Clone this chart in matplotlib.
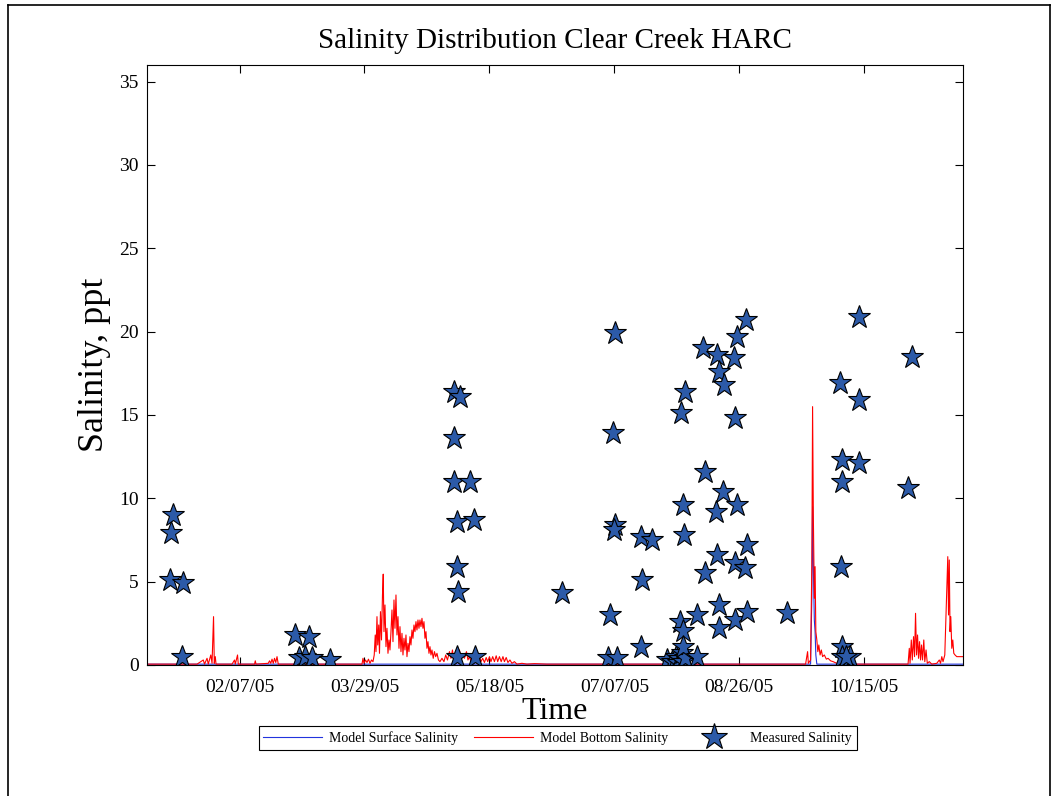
import matplotlib
matplotlib.use("Agg")
import matplotlib.pyplot as plt
import matplotlib.dates as mdates
from matplotlib.lines import Line2D
import numpy as np
import pandas as pd

plt.rcParams['font.family'] = ['Liberation Serif', 'DejaVu Serif']

START = pd.Timestamp('2005-01-01')

# model bottom salinity, (day of 2005, ppt)
bottom_day = [0, 20, 22.5, 23, 24, 24.5, 25.5, 26, 26.6, 26.9, 27.3, 27.6,
              34, 35, 35.3, 36.2, 36.5, 43, 43.3, 43.6,
              48.5, 49, 49.5, 50, 50.5, 51, 51.5, 52, 52.5, 86.0,
              86.4, 86.8, 87.4, 88.0, 88.6, 89.2, 89.8, 90.4, 90.9, 91.3, 91.6,
              92.0, 92.3, 92.7, 93.0, 93.4, 93.8, 94.2, 94.5, 94.8, 95.2, 95.6,
              96.0, 96.4, 96.8, 97.2, 97.6, 98.0, 98.4, 98.8, 99.2, 99.6, 100.0,
              100.4, 100.8, 101.2, 101.6, 102.0, 102.4, 102.8, 103.2, 103.6, 104.0,
              104.4, 104.8, 105.2, 105.6, 106.0, 106.4, 106.8, 107.2, 107.6, 108.0,
              108.4, 108.8, 109.2, 109.6, 110.0, 110.4, 110.8, 111.2, 111.6, 112.0,
              112.4, 112.8, 113.2, 113.6, 114.0, 114.5, 115.0, 115.5, 116.0, 116.6,
              117.2, 118.0, 118.8, 119.5, 120.2, 121.0, 121.6, 122.2, 122.8, 123.5,
              124.2, 125.0, 125.6, 126.3, 127.0, 127.8, 128.4, 129.0, 129.6, 130.2,
              131.0, 131.8, 132.4, 133.0, 133.6, 134.3, 135.0, 135.7, 136.3, 137.0,
              137.6, 138.3, 139.0, 139.7, 140.3, 141.0, 141.7, 142.4, 143.0, 143.7,
              144.4, 145.2, 146.0, 147.0, 148.0, 150, 152, 155, 160, 263.5,
              264.3, 264.6, 265.5, 266.0, 266.3, 266.6, 267.0, 267.3, 267.6, 268.0,
              268.4, 268.8, 269.3, 269.8, 270.3, 271.0, 271.8, 272.5, 273.5, 274.5,
              276, 278, 304.5, 305.0, 305.3, 305.8, 306.2, 306.7, 307.1, 307.5,
              307.9, 308.3, 308.7, 309.1, 309.5, 309.9, 310.3, 310.8, 311.2, 311.7,
              312.2, 313, 314, 316, 317, 317.5, 318, 318.5, 319.2, 319.6,
              320.0, 320.4, 320.7, 321.0, 321.3, 321.6, 322.0, 322.4, 322.8, 323.3,
              324, 325, 326.4]
bottom_sal = [0.05, 0.05, 0.3, 0.05, 0.4, 0.05, 0.6, 0.1, 2.9, 0.1, 0.5, 0.05,
              0.05, 0.3, 0.05, 0.6, 0.05, 0.05, 0.25, 0.05,
              0.1, 0.25, 0.1, 0.35, 0.1, 0.4, 0.15, 0.5, 0.05, 0.05,
              0.4, 0.1, 0.3, 0.15, 0.35, 0.1, 0.3, 0.2, 0.6, 1.8, 0.8,
              2.9, 1.2, 2.4, 0.7, 3.2, 1.5, 4.2, 5.45, 2.0, 3.6, 1.1,
              2.2, 0.7, 1.5, 0.9, 2.0, 3.3, 1.4, 3.9, 2.2, 4.2, 1.8,
              2.9, 1.0, 2.3, 0.8, 1.9, 0.6, 1.6, 0.9, 1.8, 0.5,
              1.3, 0.8, 1.7, 1.2, 2.1, 1.6, 2.4, 2.0, 2.6, 2.1,
              2.7, 2.2, 2.7, 2.3, 2.8, 2.2, 2.6, 1.6, 2.0, 1.0,
              1.4, 0.7, 1.1, 0.6, 0.9, 0.4, 0.8, 0.5, 0.7, 0.3,
              0.2, 0.4, 0.2, 0.6, 0.3, 0.8, 0.4, 0.9, 0.3, 0.7,
              0.4, 0.9, 0.3, 0.6, 0.4, 0.8, 0.3, 0.5, 0.2, 0.6,
              0.3, 0.5, 0.2, 0.5, 0.2, 0.4, 0.15, 0.45, 0.2, 0.5,
              0.2, 0.5, 0.2, 0.55, 0.2, 0.5, 0.2, 0.5, 0.2, 0.45,
              0.15, 0.3, 0.1, 0.2, 0.05, 0.1, 0.05, 0.08, 0.05, 0.05,
              0.8, 0.1, 0.3, 6.0, 15.5, 9.0, 4.0, 5.9, 2.0, 1.5,
              0.8, 1.2, 0.6, 0.9, 0.5, 0.6, 0.35, 0.4, 0.25, 0.2,
              0.1, 0.05, 0.05, 1.0, 0.1, 1.5, 0.3, 1.7, 0.5, 3.1,
              0.6, 1.8, 0.4, 1.4, 0.3, 1.2, 0.3, 1.5, 0.2, 0.9,
              0.1, 0.2, 0.05, 0.1, 0.3, 0.1, 0.5, 0.2, 0.6, 2.5,
              4.2, 6.5, 3.0, 6.3, 2.0, 2.9, 1.0, 1.5, 0.7, 0.6,
              0.5, 0.5, 0.5]

# model surface salinity (almost entirely hidden under the bottom curve)
surface_day = [0, 86.0, 160, 263.5, 265.5, 266.0, 266.3, 266.6, 267.0, 267.3,
               267.6, 268.0, 278, 304.5, 326.4]
surface_sal = [0.05, 0.05, 0.05, 0.05, 0.05, 4.0, 9.5, 6.0, 2.7, 2.0,
               0.6, 0.05, 0.05, 0.05, 0.05]

# measured salinity
meas_day = [9.2, 9.6, 10.4, 14.4, 14.0,
            59.2, 64.8, 60.8, 63.0, 66.0, 73.2,
            122.9, 125.2, 122.9, 122.9, 129.2, 123.9, 130.8, 123.9, 124.5, 123.9, 131.2,
            165.9,
            187.2, 186.5, 187.2, 186.8, 185.2, 184.5, 187.9, 197.5, 202.1, 198.1, 197.5,
            207.9, 210.0, 211.5, 212.3, 213.0, 214.0, 214.5, 215.3,
            213.2, 213.5, 214.5, 214.5, 214.5, 214.8, 215.2, 219.9, 219.9, 222.5,
            223.2, 223.2, 227.6, 227.9, 228.1, 228.9, 228.9, 228.9, 230.5, 230.8,
            234.8, 235.2, 235.2, 235.2, 235.9, 235.9, 239.2, 239.6, 239.9, 240.1,
            255.9,
            277.2, 277.9, 277.9, 277.6, 277.9, 277.9, 281.2, 279.5, 284.9, 284.9,
            284.9, 304.5, 305.9]
meas_sal = [5.1, 7.9, 9.0, 4.9, 0.5,
            1.8, 1.65, 0.4, 0.45, 0.4, 0.3,
            16.4, 16.1, 13.6, 11.0, 11.0, 8.6, 8.7, 5.9, 4.4, 0.5, 0.5,
            4.3,
            19.9, 13.9, 8.4, 8.1, 3.0, 0.4, 0.4, 7.7, 7.5, 5.1, 1.06,
            0.3, 0.15, 0.5, 0.1, 0.35, 0.7, 0.2, 0.4,
            2.6, 15.1, 2.06, 1.1, 9.6, 7.8, 16.4, 3.0, 0.5, 19.0,
            11.6, 5.5, 9.2, 18.6, 6.6, 17.6, 3.6, 2.2, 10.4, 16.8,
            18.4, 14.8, 6.1, 2.7, 19.7, 9.6, 5.8, 20.7, 7.2, 3.2,
            3.1,
            16.9, 12.3, 11.0, 5.9, 1.1, 0.5, 0.45, 0.5, 20.9, 15.9,
            12.1, 10.6, 18.5]

tick_dates = ['2005-02-07', '2005-03-29', '2005-05-18', '2005-07-07',
              '2005-08-26', '2005-10-15']


def to_dates(days):
    return START + pd.to_timedelta(np.asarray(days, dtype=float), unit='D')


fig = plt.figure(figsize=(10.58, 7.96), dpi=100)
ax = fig.add_axes([0.139, 0.1646, 0.771, 0.7538])

ax.plot(to_dates(surface_day), surface_sal, color='#2233dd', lw=0.8)
ax.plot(to_dates(bottom_day), bottom_sal, color='#ff0000', lw=0.8)
ax.plot(to_dates(meas_day), meas_sal, ls='none', marker='*', markersize=17,
        markerfacecolor='#2c5aa8', markeredgecolor='black', markeredgewidth=0.8)

ax.set_xlim(START, START + pd.Timedelta(days=326.4))
ax.set_ylim(0, 36)
ax.set_yticks(range(0, 36, 5))
ax.set_xticks(pd.to_datetime(tick_dates))
ax.xaxis.set_major_formatter(mdates.DateFormatter('%m/%d/%y'))
ax.tick_params(direction='in', length=6, width=0.8, labelsize=14,
               top=True, right=True)
ax.tick_params(axis='x', pad=10)
ax.tick_params(axis='y', pad=6)
for s in ax.spines.values():
    s.set_linewidth(0.8)

ax.set_title('Salinity Distribution Clear Creek HARC', fontsize=21, pad=12)
ax.set_xlabel('Time', fontsize=23, labelpad=1)
ax.set_ylabel('Salinity, ppt', fontsize=26, labelpad=6)

handles = [Line2D([], [], color='#2233dd', lw=0.8),
           Line2D([], [], color='#ff0000', lw=0.8),
           Line2D([], [], ls='none', marker='*', markersize=20,
                  markerfacecolor='#2c5aa8', markeredgecolor='black',
                  markeredgewidth=0.8)]
leg = fig.legend(handles, ['Model Surface Salinity', 'Model Bottom Salinity',
                           'Measured Salinity'],
                 loc='center', bbox_to_anchor=(0.527, 0.073), ncol=3,
                 fontsize=10, handlelength=4.2, columnspacing=1.2,
                 handletextpad=0.5, borderpad=0.35, borderaxespad=0,
                 fancybox=False, framealpha=1, edgecolor='black')
leg.get_frame().set_linewidth(0.8)

# outer figure frame
for xs, ys in [([8 / 1058, 8 / 1058], [0, 1 - 5 / 796]),
               ([8 / 1058, 1050 / 1058], [1 - 5 / 796, 1 - 5 / 796]),
               ([1050 / 1058, 1050 / 1058], [1 - 5 / 796, 0])]:
    fig.add_artist(Line2D(xs, ys, color='black', lw=1.2))

fig.savefig('out.png', dpi=100)
